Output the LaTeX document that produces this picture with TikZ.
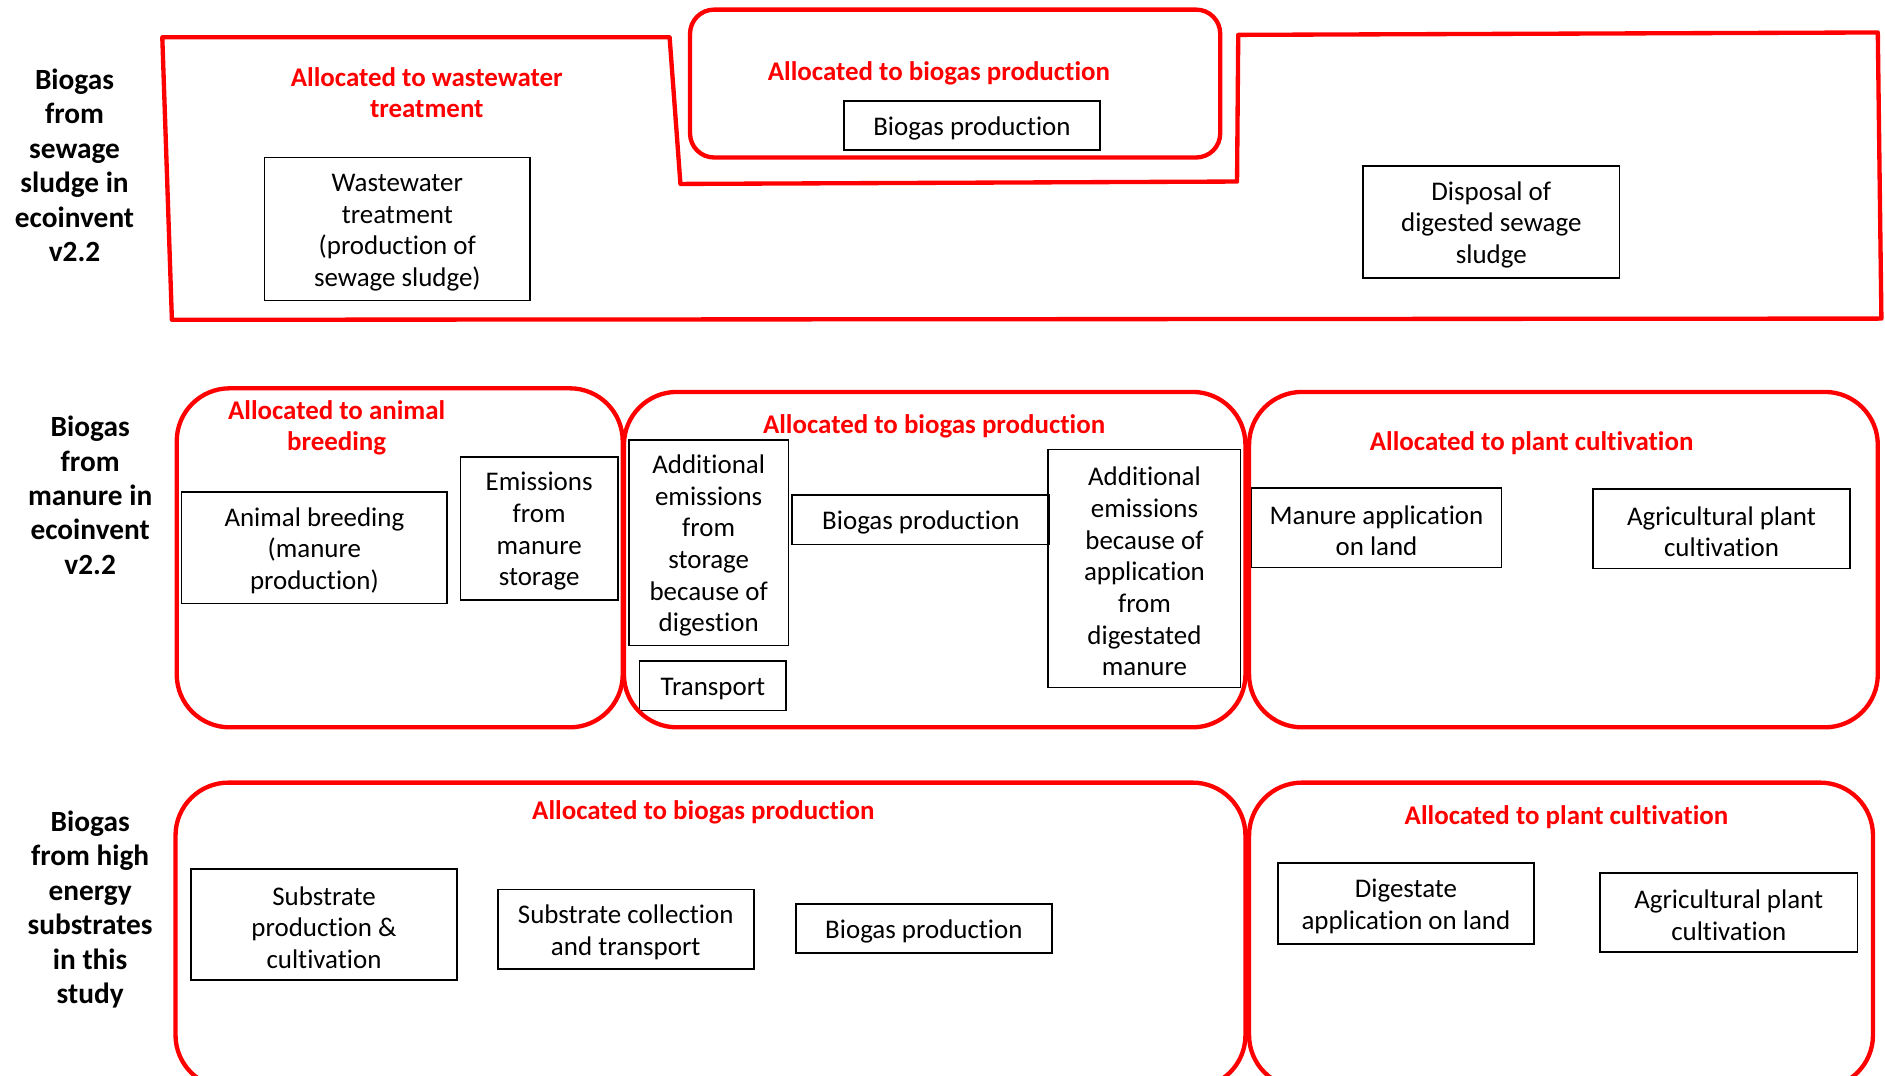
\documentclass[tikz,border=0pt]{standalone}
\usepackage{fontspec}
\setmainfont{Carlito}[RawFeature={-liga;-clig;-dlig}]
\definecolor{grpred}{RGB}{255,0,0}
\newcommand\fstrut{\rule{0pt}{10.2pt}}
\begin{document}
\begin{tikzpicture}[x=0.5pt,y=-0.5pt,
  grp/.style={draw=grpred, line width=1.8pt, line join=round},
  pbox/.style={draw=black, line width=0.7pt, inner sep=0pt, align=center,
    font=\fontsize{11.2}{13.15}\selectfont,
    execute at begin node={\fstrut}},
  rlab/.style={text=grpred, inner sep=0pt, align=center,
    font=\bfseries\fontsize{11.2}{13}\selectfont},
  slab/.style={inner sep=0pt, align=center,
    font=\bfseries\fontsize{12.2}{14.3}\selectfont}]
\clip (0,0) rectangle (1568,895);
\fill[white] (0,0) rectangle (1568,895);

% ---------- side labels ----------
\node[slab] (s1) at (62,137.5) {Biogas\\from\\sewage\\sludge in\\ecoinvent\\v2.2};
\node[slab] (s2) at (75,412) {Biogas\\from\\manure in\\ecoinvent\\v2.2};
\node[slab] (s3) at (75,756.5) {Biogas\\from high\\energy\\substrates\\in this\\study};

% ---------- process boxes ----------
\node[pbox, minimum width=110.5pt, minimum height=59.5pt] (ww) at (330.5,190.5) {\fstrut Wastewater\\treatment\\(production of\\sewage sludge)};
\node[pbox, minimum width=106.5pt, minimum height=20.5pt] (bp1) at (808.5,104.5) {Biogas production};
\node[pbox, minimum width=106.5pt, minimum height=46.5pt] (disp) at (1240.5,184.5) {\fstrut Disposal of\\digested sewage\\sludge};

\node[pbox, minimum width=110.5pt, minimum height=46.5pt] (anim) at (261.5,455.5) {\fstrut Animal breeding\\(manure\\production)};
\node[pbox, minimum width=65.5pt, minimum height=59.5pt] (emis) at (448.5,439.5) {\fstrut Emissions\\from\\manure\\storage};
\node[pbox, minimum width=66.5pt, minimum height=85.5pt] (addst) at (589.5,451.5) {\fstrut Additional\\emissions\\from\\storage\\because of\\digestion};
\node[pbox, minimum width=61pt, minimum height=20.5pt] (trans) at (593,570.5) {Transport};
\node[pbox, minimum width=107pt, minimum height=20.5pt] (bp2) at (766,432.5) {Biogas production};
\node[pbox, minimum width=80pt, minimum height=99pt] (addapp) at (952,473) {\fstrut Additional\\emissions\\because of\\application\\from\\digestated\\manure};
\node[pbox, minimum width=104pt, minimum height=33pt] (manapp) at (1145,439) {\fstrut Manure application\\on land};
\node[pbox, minimum width=107pt, minimum height=33pt] (agr2) at (1432,440) {\fstrut Agricultural plant\\cultivation};

\node[pbox, minimum width=110.5pt, minimum height=46pt] (subprod) at (269.5,769) {\fstrut Substrate\\production \&\\cultivation};
\node[pbox, minimum width=106.5pt, minimum height=33pt] (subcol) at (520.5,773) {\fstrut Substrate collection\\and transport};
\node[pbox, minimum width=106.5pt, minimum height=20.5pt] (bp3) at (768.5,772.5) {Biogas production};
\node[pbox, minimum width=106.5pt, minimum height=33.5pt] (dig) at (1169.5,751.5) {\fstrut Digestate\\application on land};
\node[pbox, minimum width=107pt, minimum height=33pt] (agr3) at (1438,759) {\fstrut Agricultural plant\\cultivation};

% ---------- red allocation groups ----------
% row 1
\draw[grp] (135,31) -- (557,31) -- (566,153) -- (1029,151) -- (1030,29)
  -- (1562,27) -- (1565,265) -- (143,266) -- cycle;
\draw[grp, rounded corners=10pt] (574,8) rectangle (1015,131);
% row 2
\draw[grp, rounded corners=22pt] (147,323) rectangle (518,605);
\draw[grp, rounded corners=22pt] (519,326) rectangle (1036,605);
\draw[grp, rounded corners=22pt] (1039,326) rectangle (1562,605);
% row 3
\draw[grp, rounded corners=22pt] (146,651) rectangle (1036,905);
\draw[grp, rounded corners=22pt] (1039,651) rectangle (1558,905);

% ---------- red labels ----------
\node[rlab] (r1a) at (355,77) {Allocated to wastewater\\treatment};
\node[rlab] (r1b) at (781,61) {Allocated to biogas production};
\node[rlab] (r2a) at (280,356) {Allocated to animal\\breeding};
\node[rlab] (r2b) at (777,355) {Allocated to biogas production};
\node[rlab] (r2c) at (1274,369) {Allocated to plant cultivation};
\node[rlab] (r3a) at (585,676) {Allocated to biogas production};
\node[rlab] (r3b) at (1303,680) {Allocated to plant cultivation};
\end{tikzpicture}
\end{document}
